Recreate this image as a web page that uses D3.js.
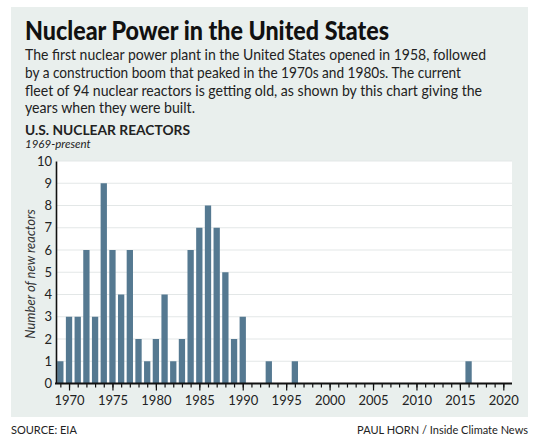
<!DOCTYPE html>
<html><head><meta charset="utf-8">
<script src="https://cdn.jsdelivr.net/npm/d3@7"></script>
<style>
body{margin:0;background:#fff}
text{font-family:Lato,"Open Sans",sans-serif}
</style>
</head><body>
<svg id="c" width="540" height="444"></svg>
<script>
// ---- data ----
const years = [1969,1970,1971,1972,1973,1974,1975,1976,1977,1978,1979,1980,1981,1982,1983,1984,1985,1986,1987,1988,1989,1990,1993,1996,2016];
const reactors = [1,3,3,6,3,9,6,4,6,2,1,2,4,1,2,6,7,8,7,5,2,3,1,1,1];
const xTickLabels = [1970,1975,1980,1985,1990,1995,2000,2005,2010,2015,2020];
const yTickLabels = [0,1,2,3,4,5,6,7,8,9,10];
const titleText = "Nuclear Power in the United States";
const subtitleLines = [
  "The first nuclear power plant in the United States opened in 1958, followed",
  "by a construction boom that peaked in the 1970s and 1980s. The current",
  "fleet of 94 nuclear reactors is getting old, as shown by this chart giving the",
  "years when they were built."
];

const svg = d3.select("#c");
svg.append("rect").attr("x",11).attr("y",7).attr("width",517).attr("height",410).attr("fill","#e9efed");

function fit(t, w){ t.attr("textLength", w).attr("lengthAdjust","spacingAndGlyphs"); return t; }

fit(svg.append("text").attr("x",25).attr("y",40).attr("font-size",27).attr("font-weight",900)
  .attr("fill","#111").text(titleText), 364);

const subW = [461, 436, 457, 170];
subtitleLines.forEach((s,i)=>{
  fit(svg.append("text").attr("x",25).attr("y",60+i*17.8).attr("font-size",15)
    .attr("fill","#222").text(s), subW[i]);
});

fit(svg.append("text").attr("x",25).attr("y",135).attr("font-size",14).attr("font-weight",700)
  .attr("fill","#222").text("U.S. NUCLEAR REACTORS"), 165);
svg.append("text").attr("x",25).attr("y",148).attr("font-size",11.5).attr("font-style","italic")
  .attr("fill","#222").text("1969-present");

// ---- chart ----
const x = d3.scaleLinear().domain([1968.5, 2021]).range([56, 512]);
const y = d3.scaleLinear().domain([0, 10]).range([383.5, 161]);
const bw = 6.3;

svg.append("rect").attr("x",x(1968.5)).attr("y",y(10)).attr("width",x(2021)-x(1968.5))
  .attr("height",y(0)-y(10)).attr("fill","#fff");

svg.append("g").selectAll("line").data(yTickLabels.filter(d=>d>0)).join("line")
  .attr("x1",x(1968.5)).attr("x2",x(2021)).attr("y1",d=>y(d)).attr("y2",d=>y(d))
  .attr("stroke","#e3e7e7").attr("stroke-width",1.2);

svg.append("g").selectAll("rect").data(years.map((yr,i)=>({yr,v:reactors[i]}))).join("rect")
  .attr("x",d=>x(d.yr)-bw/2).attr("width",bw)
  .attr("y",d=>y(d.v)).attr("height",d=>y(0)-y(d.v)).attr("fill","#557991");

// minor ticks
const minor = svg.append("g").attr("transform",`translate(0,${y(0)})`)
  .call(d3.axisBottom(x).tickValues(d3.range(1969,2021)).tickSize(4).tickFormat(""));
minor.select(".domain").remove();
minor.selectAll("line").attr("stroke","#111").attr("stroke-width",1.2);
// major ticks
const major = svg.append("g").attr("transform",`translate(0,${y(0)})`)
  .call(d3.axisBottom(x).tickValues(xTickLabels).tickSize(7).tickPadding(5).tickFormat(d3.format("d")));
major.select(".domain").remove();
major.selectAll("line").attr("stroke","#111").attr("stroke-width",1.2);
major.selectAll("text").attr("font-size",13).attr("fill","#222").attr("font-family","Lato, sans-serif");

svg.append("line").attr("x1",x(1968.5)-1).attr("x2",x(2021)).attr("y1",y(0)).attr("y2",y(0))
  .attr("stroke","#111").attr("stroke-width",2);

const ya = svg.append("g").attr("transform",`translate(${x(1968.5)},0)`)
  .call(d3.axisLeft(y).tickValues(yTickLabels).tickSize(0).tickPadding(4).tickFormat(d3.format("d")));
ya.select(".domain").attr("stroke","#111").attr("stroke-width",1.6);
ya.selectAll("text").attr("font-size",13).attr("fill","#222").attr("font-family","Lato, sans-serif");

svg.append("text").attr("transform","translate(35,274) rotate(-90)").attr("text-anchor","middle")
  .attr("font-size",13).attr("font-style","italic").attr("fill","#333").text("Number of new reactors");

// footer
svg.append("text").attr("x",11).attr("y",434).attr("font-size",11).attr("fill","#222").text("SOURCE: EIA");
svg.append("text").attr("x",528).attr("y",434).attr("text-anchor","end").attr("font-size",11)
  .attr("fill","#222").text("PAUL HORN / Inside Climate News");
</script>
</body></html>
